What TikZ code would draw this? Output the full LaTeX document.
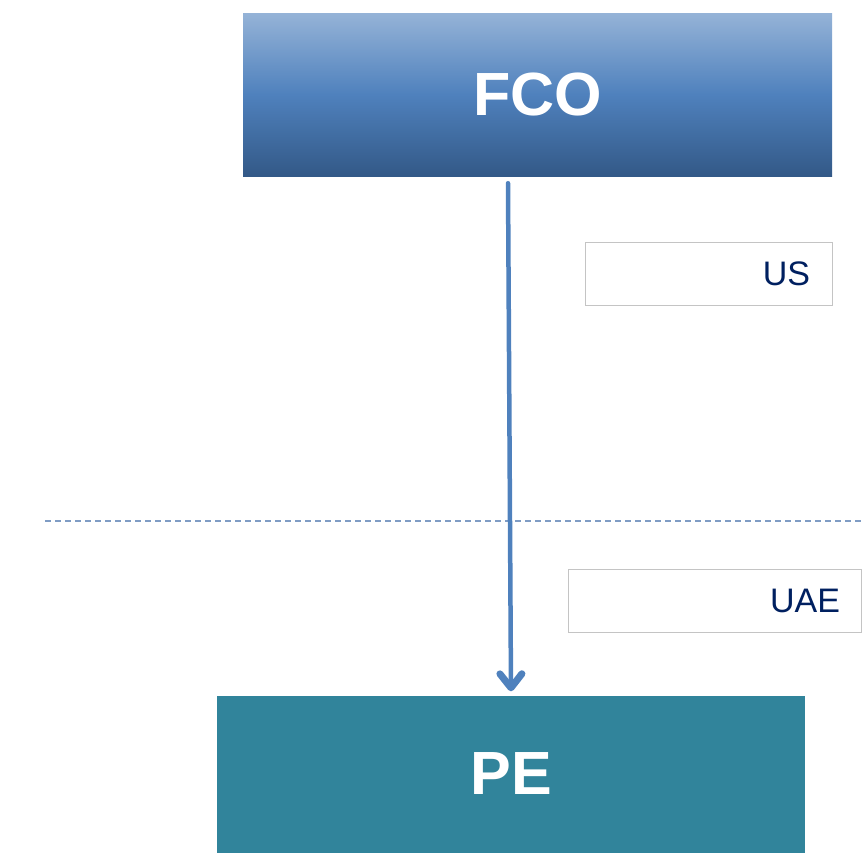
\documentclass[tikz,border=0pt]{standalone}
\usepackage{fontspec}
\setmainfont{Liberation Sans}
\usetikzlibrary{arrows.meta}
\definecolor{fcotop}{HTML}{95B3D7}
\definecolor{fcomid}{HTML}{4F81BD}
\definecolor{fcobot}{HTML}{335987}
\definecolor{peteal}{HTML}{31849B}
\definecolor{navy}{HTML}{002060}
\definecolor{arrblue}{HTML}{4F81BD}
\definecolor{dashblue}{HTML}{7F9CC4}
\definecolor{lblgrey}{HTML}{C4C4C4}
\tikzset{
  bigbox/.style={rectangle, inner sep=0pt, text=white, font=\fontsize{61}{61}\selectfont\bfseries},
  lblbox/.style={rectangle, draw=lblgrey, line width=1pt, fill=white, inner xsep=22pt, inner ysep=0pt,
    minimum height=63pt, align=right, text=navy, font=\fontsize{34}{36}\selectfont},
  flowarr/.style={draw=arrblue, line width=4.5pt, line cap=round,
    -{Straight Barb[length=14pt, width=22pt, line width=7pt, round]}},
  sep/.style={draw=dashblue, line width=1.3pt, dash pattern=on 6pt off 4pt}
}
\begin{document}
\begin{tikzpicture}[x=1pt, y=-1pt]
\useasboundingbox (0,0) rectangle (862,852);
\node[bigbox, minimum width=589pt, minimum height=163pt, top color=fcotop, bottom color=fcobot, middle color=fcomid] (FCO) at (537.5,94.5) {FCO};
\node[bigbox, minimum width=588pt, minimum height=157pt, fill=peteal] (PE) at (511,774) {PE};
\coordinate (sepL) at (45,521);
\coordinate (sepR) at (862,521);
\draw[sep] (sepL) -- (sepR);
\node[lblbox, minimum width=247pt, text width=203pt] (US) at (708.5,273.5) {US};
\node[lblbox, minimum width=293pt, text width=251pt, inner xsep=21pt] (UAE) at (714.5,600.5) {UAE};
\draw[flowarr] ([xshift=-29.5pt, yshift=-7pt]FCO.south) -- ([yshift=4pt]PE.north);
\end{tikzpicture}
\end{document}
